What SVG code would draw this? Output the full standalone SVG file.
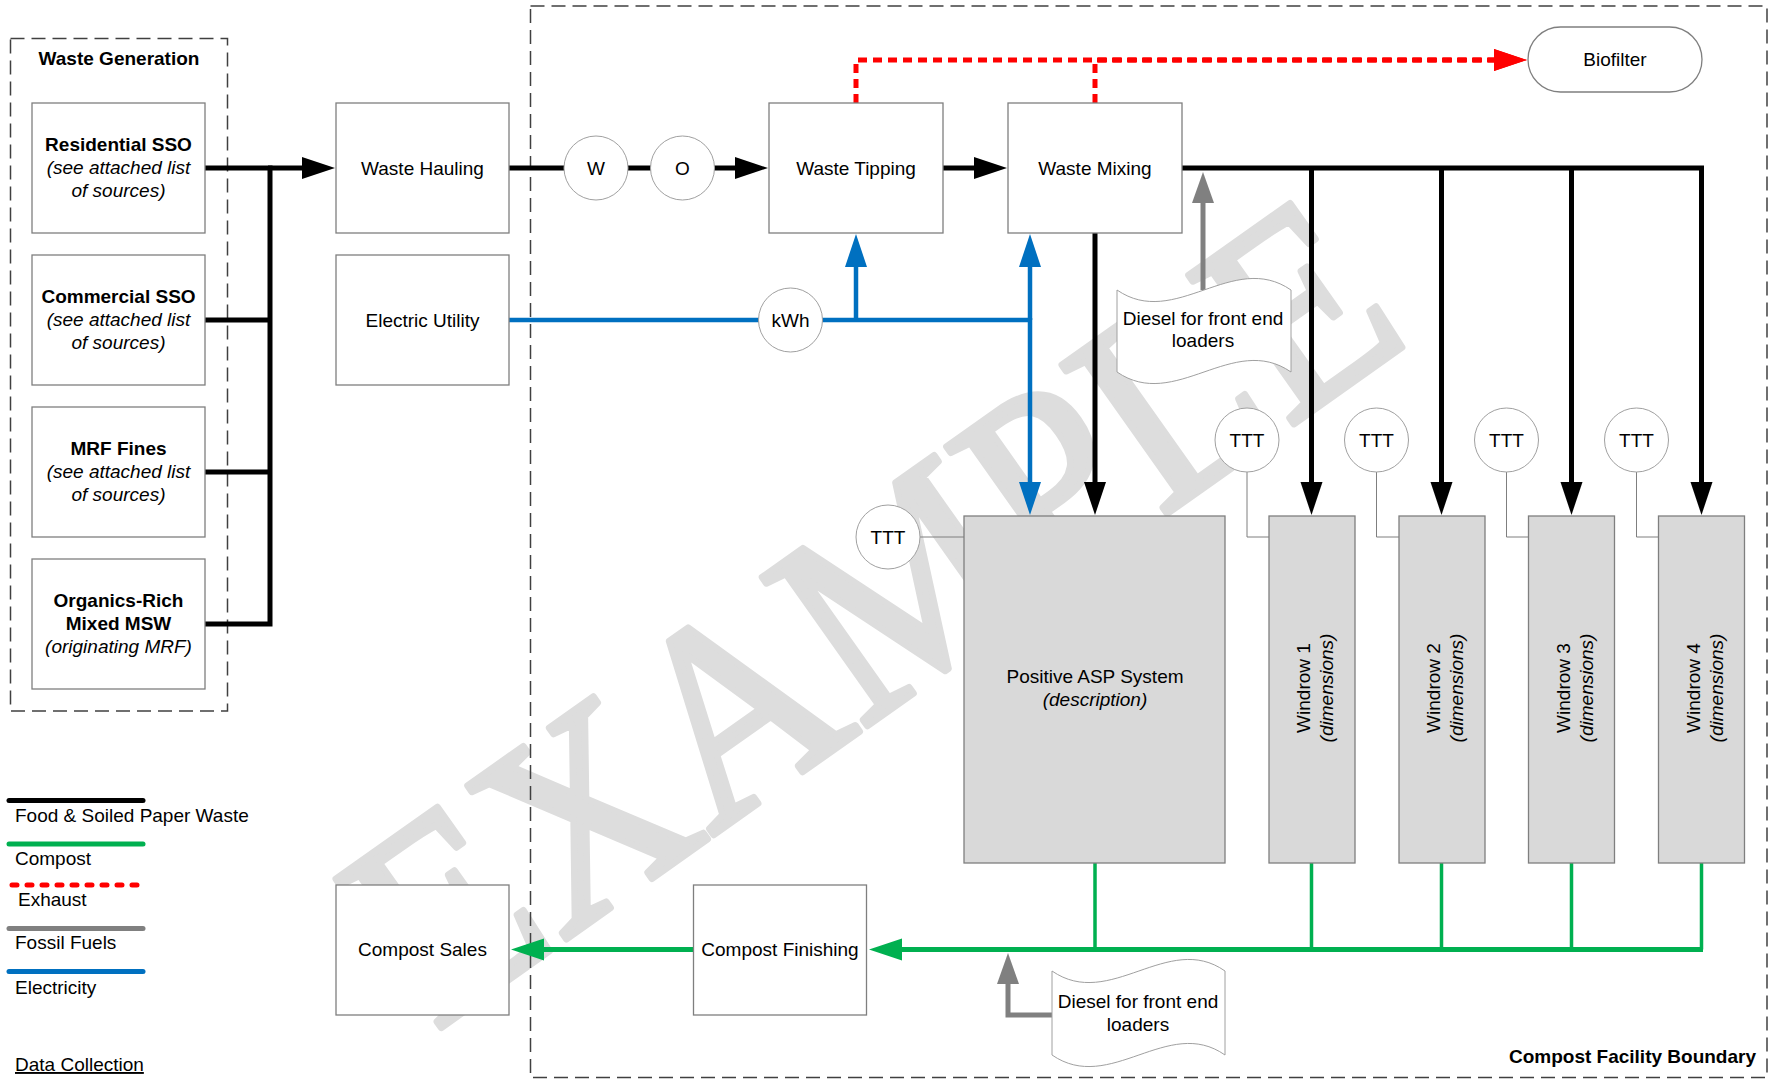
<svg xmlns="http://www.w3.org/2000/svg" width="1774" height="1079" viewBox="0 0 1774 1079">
<style>
text{font-family:"Liberation Sans",Arial,sans-serif;font-size:19px;fill:#000}
.b{font-weight:bold}
.i{font-style:italic}
.box{fill:#fff;stroke:#7f7f7f;stroke-width:1.3}
.gbox{fill:#d9d9d9;stroke:#7f7f7f;stroke-width:1.3}
.circ{fill:#fff;stroke:#a0a0a0;stroke-width:1}
.doc{fill:#fff;stroke:#a0a0a0;stroke-width:1}
.bound{fill:none;stroke:#404040;stroke-width:1.5;stroke-dasharray:14 7}
.k{fill:none;stroke:#000;stroke-width:5}
.bl{fill:none;stroke:#0070c0;stroke-width:4.5}
.gr{fill:none;stroke:#00b050;stroke-width:5}
.grv{fill:none;stroke:#00b050;stroke-width:3.5}
.gy{fill:none;stroke:#808080;stroke-width:5}
.rd{fill:none;stroke:#ff0000;stroke-width:5;stroke-dasharray:9 6}
.thin{fill:none;stroke:#7f7f7f;stroke-width:1}
.c{text-anchor:middle}
</style>
<defs>
<marker id="ak" markerUnits="userSpaceOnUse" markerWidth="34" markerHeight="24" viewBox="0 0 34 24" refX="1" refY="12" orient="auto"><path d="M0,1 L33,12 L0,23 Z" fill="#000"/></marker>
<marker id="ab" markerUnits="userSpaceOnUse" markerWidth="34" markerHeight="24" viewBox="0 0 34 24" refX="1" refY="12" orient="auto"><path d="M0,1 L33,12 L0,23 Z" fill="#0070c0"/></marker>
<marker id="ag" markerUnits="userSpaceOnUse" markerWidth="34" markerHeight="24" viewBox="0 0 34 24" refX="1" refY="12" orient="auto"><path d="M0,1 L33,12 L0,23 Z" fill="#00b050"/></marker>
<marker id="ay" markerUnits="userSpaceOnUse" markerWidth="34" markerHeight="24" viewBox="0 0 34 24" refX="1" refY="12" orient="auto"><path d="M0,1 L31,12 L0,23 Z" fill="#808080"/></marker>
<marker id="ar" markerUnits="userSpaceOnUse" markerWidth="34" markerHeight="24" viewBox="0 0 34 24" refX="1" refY="12" orient="auto"><path d="M0,1 L33,12 L0,23 Z" fill="#ff0000"/></marker>
</defs>
<rect width="1774" height="1079" fill="#fff"/>

<g id="watermark">
<text transform="translate(435,1032) rotate(-35.3)" textLength="1200" lengthAdjust="spacingAndGlyphs" style="font-family:'Liberation Serif','Times New Roman',serif;font-size:278px;fill:#dddddd;stroke:#dddddd;stroke-width:7;stroke-linejoin:round">EXAMPLE</text>
</g>

<g id="boundaries">
<rect class="bound" x="10.5" y="38.5" width="217" height="672.5"/>
<rect class="bound" x="530.5" y="6" width="1236.5" height="1071.5"/>
<text class="b" x="119" y="65" text-anchor="middle">Waste Generation</text>
<text class="b" x="1756" y="1063" text-anchor="end">Compost Facility Boundary</text>
</g>

<g id="connectors">
<path class="k" d="M205,168 H270 M205,320 H270 M205,472 H270 M205,624 H270 M270,165.5 V626.5"/>
<path class="k" d="M268,168 H303" marker-end="url(#ak)"/>
<path class="k" d="M509,168 H564 M628,168 H651"/>
<path class="k" d="M714,168 H736" marker-end="url(#ak)"/>
<path class="k" d="M943,168 H975" marker-end="url(#ak)"/>
<path class="k" d="M1182,168 H1701.5 V483" marker-end="url(#ak)"/>
<path class="k" d="M1311.5,168 V483" marker-end="url(#ak)"/>
<path class="k" d="M1441.5,168 V483" marker-end="url(#ak)"/>
<path class="k" d="M1571.5,168 V483" marker-end="url(#ak)"/>
<path class="k" d="M1095,233 V483" marker-end="url(#ak)"/>
<path class="bl" d="M509,320 H759 M822,320 H1030"/>
<path class="bl" d="M856,320 V266" marker-end="url(#ab)"/>
<path class="bl" d="M1030,320 V266" marker-end="url(#ab)"/>
<path class="bl" d="M1030,318 V483" marker-end="url(#ab)"/>
<path class="rd" d="M856,103 V60 H1495" marker-end="url(#ar)"/>
<path class="rd" d="M1095,103 V60 H1495" marker-end="url(#ar)"/>
<path class="gy" d="M1203,290 V202" marker-end="url(#ay)"/>
<path class="gy" d="M1052,1015 H1008 V983" marker-end="url(#ay)"/>
<path class="grv" d="M1095,863 V949.5 M1311.5,863 V949.5 M1441.5,863 V949.5 M1571.5,863 V949.5 M1701.5,863 V949.5"/>
<path class="gr" d="M1703,949.5 H901" marker-end="url(#ag)"/>
<path class="gr" d="M693.5,949.5 H543" marker-end="url(#ag)"/>
<path class="thin" d="M920,537 H964 M1247,472 V537 H1269 M1376.5,472 V537 H1399 M1506.5,472 V537 H1528.5 M1636.5,472 V537 H1658.5"/>
</g>

<g id="n-residential"><rect class="box" x="32" y="103" width="173" height="130"/><text class="c b" x="118.5" y="151">Residential SSO</text><text class="c i" x="118.5" y="174">(see attached list</text><text class="c i" x="118.5" y="197">of sources)</text></g>
<g id="n-commercial"><rect class="box" x="32" y="255" width="173" height="130"/><text class="c b" x="118.5" y="303">Commercial SSO</text><text class="c i" x="118.5" y="326">(see attached list</text><text class="c i" x="118.5" y="349">of sources)</text></g>
<g id="n-mrf"><rect class="box" x="32" y="407" width="173" height="130"/><text class="c b" x="118.5" y="455">MRF Fines</text><text class="c i" x="118.5" y="478">(see attached list</text><text class="c i" x="118.5" y="501">of sources)</text></g>
<g id="n-organics"><rect class="box" x="32" y="559" width="173" height="130"/><text class="c b" x="118.5" y="607">Organics-Rich</text><text class="c b" x="118.5" y="630">Mixed MSW</text><text class="c i" x="118.5" y="653">(originating MRF)</text></g>

<g id="n-hauling"><rect class="box" x="336" y="103" width="173" height="130"/><text class="c" x="422.5" y="175">Waste Hauling</text></g>
<g id="n-electric"><rect class="box" x="336" y="255" width="173" height="130"/><text class="c" x="422.5" y="327">Electric Utility</text></g>
<g id="n-w"><circle class="circ" cx="596" cy="168" r="32"/><text class="c" x="596" y="175">W</text></g>
<g id="n-o"><circle class="circ" cx="682.5" cy="168" r="32"/><text class="c" x="682.5" y="175">O</text></g>
<g id="n-kwh"><circle class="circ" cx="790.5" cy="320" r="32"/><text class="c" x="790.5" y="327">kWh</text></g>
<g id="n-tipping"><rect class="box" x="769" y="103" width="174" height="130"/><text class="c" x="856" y="175">Waste Tipping</text></g>
<g id="n-mixing"><rect class="box" x="1008" y="103" width="174" height="130"/><text class="c" x="1095" y="175">Waste Mixing</text></g>
<g id="n-biofilter"><rect class="box" x="1528" y="27" width="174" height="65" rx="32.5" ry="32.5"/><text class="c" x="1615" y="66">Biofilter</text></g>
<g id="n-diesel1"><path class="doc" d="M1117,290 C1175,330 1233,250 1291,290 L1291,372 C1233,332 1175,412 1117,372 Z"/><text class="c" x="1203" y="325">Diesel for front end</text><text class="c" x="1203" y="347">loaders</text></g>

<g id="n-ttt0"><circle class="circ" cx="888" cy="537" r="32"/><text class="c" x="888" y="544">TTT</text></g>
<g id="n-ttt1"><circle class="circ" cx="1247" cy="440" r="32"/><text class="c" x="1247" y="447">TTT</text></g>
<g id="n-ttt2"><circle class="circ" cx="1376.5" cy="440" r="32"/><text class="c" x="1376.5" y="447">TTT</text></g>
<g id="n-ttt3"><circle class="circ" cx="1506.5" cy="440" r="32"/><text class="c" x="1506.5" y="447">TTT</text></g>
<g id="n-ttt4"><circle class="circ" cx="1636.5" cy="440" r="32"/><text class="c" x="1636.5" y="447">TTT</text></g>

<g id="n-asp"><rect class="gbox" x="964" y="516" width="261" height="347"/><text class="c" x="1095" y="683">Positive ASP System</text><text class="c i" x="1095" y="706">(description)</text></g>
<g id="n-windrow1"><rect class="gbox" x="1269" y="516" width="86" height="347"/><text class="c" transform="translate(1311.5,688) rotate(-90)"><tspan x="0" y="-2">Windrow 1</tspan><tspan x="0" y="21" class="i">(dimensions)</tspan></text></g>
<g id="n-windrow2"><rect class="gbox" x="1399" y="516" width="86" height="347"/><text class="c" transform="translate(1441.5,688) rotate(-90)"><tspan x="0" y="-2">Windrow 2</tspan><tspan x="0" y="21" class="i">(dimensions)</tspan></text></g>
<g id="n-windrow3"><rect class="gbox" x="1528.5" y="516" width="86" height="347"/><text class="c" transform="translate(1571.5,688) rotate(-90)"><tspan x="0" y="-2">Windrow 3</tspan><tspan x="0" y="21" class="i">(dimensions)</tspan></text></g>
<g id="n-windrow4"><rect class="gbox" x="1658.5" y="516" width="86" height="347"/><text class="c" transform="translate(1701.5,688) rotate(-90)"><tspan x="0" y="-2">Windrow 4</tspan><tspan x="0" y="21" class="i">(dimensions)</tspan></text></g>

<g id="n-finishing"><rect class="box" x="693.5" y="885" width="173" height="130"/><text class="c" x="780" y="956">Compost Finishing</text></g>
<g id="n-sales"><rect class="box" x="336" y="885" width="173" height="130"/><text class="c" x="422.5" y="956">Compost Sales</text></g>
<g id="n-diesel2"><path class="doc" d="M1052,971 C1110,1011 1168,931 1225,971 L1225,1055 C1168,1015 1110,1095 1052,1055 Z"/><text class="c" x="1138" y="1008">Diesel for front end</text><text class="c" x="1138" y="1031">loaders</text></g>

<g id="legend">
<line x1="9" y1="800.5" x2="143" y2="800.5" stroke="#000" stroke-width="5" stroke-linecap="round"/>
<text x="15" y="822">Food &amp; Soiled Paper Waste</text>
<line x1="9" y1="844" x2="143" y2="844" stroke="#00b050" stroke-width="5" stroke-linecap="round"/>
<text x="15" y="865">Compost</text>
<line x1="12" y1="885" x2="144" y2="885" stroke="#ff0000" stroke-width="5" stroke-linecap="round" stroke-dasharray="5 10"/>
<text x="18" y="906">Exhaust</text>
<line x1="9" y1="928.5" x2="143" y2="928.5" stroke="#808080" stroke-width="5" stroke-linecap="round"/>
<text x="15" y="949">Fossil Fuels</text>
<line x1="9" y1="971.5" x2="143" y2="971.5" stroke="#0070c0" stroke-width="5" stroke-linecap="round"/>
<text x="15" y="993.5">Electricity</text>
<text x="15" y="1071" text-decoration="underline">Data Collection</text>
</g>
</svg>
